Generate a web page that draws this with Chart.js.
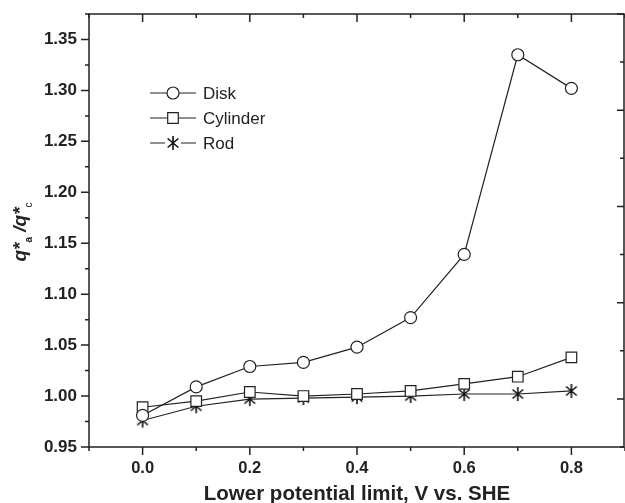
<!DOCTYPE html>
<html>
<head>
<meta charset="utf-8">
<script src="https://cdn.jsdelivr.net/npm/chart.js@4/dist/chart.umd.min.js"></script>
<style>
  html, body { margin: 0; padding: 0; background: #fff; }
  #chartBox { width: 625px; height: 503px; }
</style>
</head>
<body>
<div id="chartBox"><canvas id="ratioChart" width="625" height="503"></canvas></div>
<script>
// lower potential limit (V vs. SHE)
const xValues = [0.0, 0.1, 0.2, 0.3, 0.4, 0.5, 0.6, 0.7, 0.8];
const diskValues = [0.981, 1.009, 1.029, 1.033, 1.048, 1.077, 1.139, 1.335, 1.302];
const cylinderValues = [0.989, 0.995, 1.004, 1.000, 1.002, 1.005, 1.012, 1.019, 1.038];
const rodValues = [0.976, 0.990, 0.997, 0.998, 0.999, 1.000, 1.002, 1.002, 1.005];
const seriesLabels = ['Disk', 'Cylinder', 'Rod'];

const xTickValues = [0.0, 0.2, 0.4, 0.6, 0.8];
const yTickValues = [0.95, 1.00, 1.05, 1.10, 1.15, 1.20, 1.25, 1.30, 1.35];

const FONT = '"Liberation Sans", Arial, Helvetica, sans-serif';
const INK = '#222';

// asterisk marker, as a small canvas used for pointStyle
function makeAsterisk(size) {
  const c = document.createElement('canvas');
  c.width = size; c.height = size;
  const g = c.getContext('2d');
  const m = size / 2, r = size / 2 - 1;
  g.strokeStyle = '#111';
  g.lineWidth = 1.6;
  g.beginPath();
  [90, 40, 140].forEach(deg => {
    const a = deg * Math.PI / 180;
    g.moveTo(m - r * Math.cos(a), m - r * Math.sin(a));
    g.lineTo(m + r * Math.cos(a), m + r * Math.sin(a));
  });
  g.stroke();
  return c;
}
const starImg = makeAsterisk(16);

const toPoints = vals => vals.map((v, i) => ({ x: xValues[i], y: v }));

const baseSet = {
  borderColor: INK,
  borderWidth: 1.2,
  pointBorderColor: INK,
  pointBackgroundColor: '#fff',
  pointBorderWidth: 1.2,
  tension: 0
};

const datasets = [
  Object.assign({}, baseSet, { label: seriesLabels[0], data: toPoints(diskValues), pointStyle: 'circle', pointRadius: 6, pointHoverRadius: 6 }),
  Object.assign({}, baseSet, { label: seriesLabels[1], data: toPoints(cylinderValues), pointStyle: 'rect', pointRadius: 7.5, pointHoverRadius: 7.5 }),
  Object.assign({}, baseSet, { label: seriesLabels[2], data: toPoints(rodValues), pointStyle: starImg, pointRadius: 7, pointHoverRadius: 7 })
];

// frame with inward ticks on top/right, outward on bottom/left
const frameTicks = {
  id: 'frameTicks',
  afterDraw(chart) {
    const { ctx, chartArea: a, scales: { x, y } } = chart;
    const right = a.right - 1;
    ctx.save();
    ctx.strokeStyle = INK;
    ctx.lineWidth = 1.5;
    ctx.strokeRect(a.left, a.top, right - a.left, a.bottom - a.top);
    ctx.beginPath();
    for (let i = -1; i <= 9; i++) {
      const px = x.getPixelForValue(i / 10);
      const len = (i % 2 === 0) ? 8 : 4;
      ctx.moveTo(px, a.bottom); ctx.lineTo(px, a.bottom + len);
      ctx.moveTo(px, a.top); ctx.lineTo(px, a.top + len);
    }
    for (let k = 0; k <= 17; k++) {
      const py = y.getPixelForValue(0.95 + k * 0.025);
      const len = (k % 2 === 0) ? 8 : 4;
      ctx.moveTo(a.left, py); ctx.lineTo(a.left - len, py);
    }
    // right axis has its own 9 divisions
    for (let k = 0; k <= 9; k++) {
      const py = y.getPixelForDecimal(k / 9);
      const len = (k % 2 === 1) ? 7 : 4;
      ctx.moveTo(right, py); ctx.lineTo(right - len, py);
    }
    ctx.stroke();
    ctx.restore();
  }
};

// rotated y title with subscripts: q*a / q*c
const yTitle = {
  id: 'yTitle',
  afterDraw(chart) {
    const ctx = chart.ctx;
    const parts = [
      { t: 'q*', f: 'italic bold 19px ' + FONT, dy: 0 },
      { t: 'a', f: 'bold 10px ' + FONT, dy: 6 },
      { t: ' /', f: 'italic bold 19px ' + FONT, dy: 0 },
      { t: 'q*', f: 'italic bold 19px ' + FONT, dy: 0 },
      { t: 'c', f: '10px ' + FONT, dy: 6 }
    ];
    ctx.save();
    ctx.translate(26, 232);
    ctx.rotate(-Math.PI / 2);
    ctx.fillStyle = INK;
    ctx.textBaseline = 'alphabetic';
    let total = 0;
    parts.forEach(p => { ctx.font = p.f; p.w = ctx.measureText(p.t).width; total += p.w; });
    let cx = -total / 2;
    parts.forEach(p => {
      ctx.font = p.f;
      ctx.fillText(p.t, cx, p.dy);
      cx += p.w;
    });
    ctx.restore();
  }
};

// line-marker-line legend inside the plot
const lineLegend = {
  id: 'lineLegend',
  afterDraw(chart) {
    const ctx = chart.ctx;
    ctx.save();
    ctx.font = '17px ' + FONT;
    ctx.textBaseline = 'middle';
    chart.data.datasets.forEach((ds, i) => {
      const yy = 93 + i * 25;
      ctx.strokeStyle = INK;
      ctx.lineWidth = 1.2;
      ctx.beginPath();
      ctx.moveTo(150, yy); ctx.lineTo(196, yy);
      ctx.stroke();
      const r = ds.pointRadius;
      ctx.fillStyle = '#fff';
      ctx.beginPath();
      if (ds.pointStyle === 'circle') {
        ctx.arc(173, yy, r, 0, Math.PI * 2);
        ctx.fill(); ctx.stroke();
      } else if (ds.pointStyle === 'rect') {
        const s = r * Math.SQRT1_2;
        ctx.rect(173 - s, yy - s, 2 * s, 2 * s);
        ctx.fill(); ctx.stroke();
      } else {
        const img = ds.pointStyle;
        ctx.fillRect(173 - img.width / 2, yy - img.height / 2, img.width, img.height);
        ctx.drawImage(img, 173 - img.width / 2, yy - img.height / 2);
      }
      ctx.fillStyle = INK;
      ctx.fillText(ds.label, 203, yy + 1);
    });
    ctx.restore();
  }
};

new Chart(document.getElementById('ratioChart'), {
  type: 'line',
  data: { datasets },
  options: {
    responsive: false,
    animation: false,
    devicePixelRatio: 1,
    layout: { autoPadding: false, padding: { top: 14, right: 0, left: 0, bottom: 0 } },
    plugins: {
      legend: { display: false },
      tooltip: { enabled: false },
      title: { display: false }
    },
    scales: {
      x: {
        type: 'linear',
        position: 'bottom',
        min: -0.1,
        max: 0.9,
        afterBuildTicks: s => { s.ticks = xTickValues.map(v => ({ value: v })); },
        afterFit: s => { s.height = 56; s.paddingLeft = 0; s.paddingRight = 0; },
        ticks: {
          padding: 12,
          color: INK,
          font: { family: FONT, size: 16.5, weight: 'bold' },
          callback: v => Number(v).toFixed(1),
          maxRotation: 0
        },
        grid: { display: false, drawTicks: false },
        border: { display: false },
        title: {
          display: true,
          text: 'Lower potential limit, V vs. SHE',
          color: INK,
          font: { family: FONT, size: 20.5, weight: 'bold', lineHeight: 0.8 },
          padding: { top: 0, bottom: 0 }
        }
      },
      y: {
        type: 'linear',
        position: 'left',
        min: 0.95,
        max: 1.375,
        afterBuildTicks: s => { s.ticks = yTickValues.map(v => ({ value: v })); },
        afterFit: s => { s.width = 89; s.paddingTop = 0; s.paddingBottom = 0; },
        ticks: {
          padding: 12,
          color: INK,
          font: { family: FONT, size: 17, weight: 'bold' },
          callback: v => Number(v).toFixed(2)
        },
        grid: { display: false, drawTicks: false },
        border: { display: false }
      }
    }
  },
  plugins: [frameTicks, yTitle, lineLegend]
});
</script>
</body>
</html>
